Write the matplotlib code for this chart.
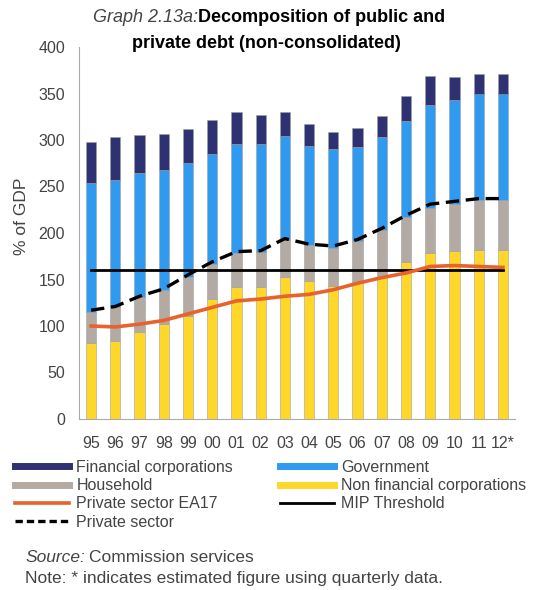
"""
Decomposition of public and private debt (non-consolidated), % of GDP.
"""
import matplotlib
matplotlib.use("Agg")
import matplotlib.pyplot as plt
from matplotlib.lines import Line2D
import numpy as np

plt.rcParams['font.family'] = ['Liberation Sans', 'DejaVu Sans']

years = ['95', '96', '97', '98', '99', '00', '01', '02', '03', '04', '05',
         '06', '07', '08', '09', '10', '11', '12*']

# stacked bar components
nfc = [82, 84, 94, 102, 111, 129, 142, 142, 153, 148, 143, 147, 153, 169, 178, 181, 182, 182]
household = [33, 36, 37, 37, 42, 38, 36, 38, 39, 39, 41, 44, 50, 48, 49, 50, 53, 54]
government = [139, 137, 133, 129, 122, 118, 118, 116, 112, 107, 106, 102, 100, 103, 111, 112, 115, 114]
financial = [44, 46, 41, 38, 37, 37, 34, 31, 26, 23, 19, 20, 23, 27, 31, 25, 21, 21]

# lines
private_sector = [117, 121, 132, 140, 155, 169, 180, 181, 194, 188, 186, 193, 205, 219, 231, 234, 237, 237]
private_ea17 = [100, 99, 102, 106, 113, 120, 127, 129, 132, 134, 139, 146, 152, 157, 164, 165, 164, 163]
mip_threshold = [160] * len(years)

c_fin = '#2e3272'
c_gov = '#2f9af0'
c_hh = '#b3aba3'
c_nfc = '#ffd62a'
c_ea = '#e8622c'
c_txt = '#444444'

fig = plt.figure(figsize=(5.56, 5.90), dpi=100)
ax = fig.add_axes([79 / 556, 1 - 419 / 590, (515 - 79) / 556, (419 - 47) / 590])

x = np.arange(len(years))
w = 0.42
edge = dict(edgecolor='#a0a0a0', linewidth=0.4)
b1 = np.array(nfc)
b2 = b1 + np.array(household)
b3 = b2 + np.array(government)
ax.bar(x, nfc, w, color=c_nfc, **edge)
ax.bar(x, household, w, bottom=b1, color=c_hh, **edge)
ax.bar(x, government, w, bottom=b2, color=c_gov, **edge)
ax.bar(x, financial, w, bottom=b3, color=c_fin, **edge)

ax.plot(x, mip_threshold, color='black', lw=2)
ax.plot(x, private_ea17, color=c_ea, lw=2.6)
ax.plot(x, private_sector, color='black', lw=2.4, ls=(0, (4, 2)))

ax.set_xlim(-0.5, len(years) - 0.5)
ax.set_ylim(0, 400)
ax.set_yticks(range(0, 401, 50))
ax.set_xticks(x)
ax.set_xticklabels(years)
ax.tick_params(length=0, labelsize=11.5, colors=c_txt)
ax.tick_params(axis='y', pad=10)
ax.tick_params(axis='x', pad=12)
for s in ['top', 'right']:
    ax.spines[s].set_visible(False)
for s in ['left', 'bottom']:
    ax.spines[s].set_color('#aaaaaa')
    ax.spines[s].set_linewidth(0.8)
ax.set_ylabel('% of GDP', fontsize=12.5, color=c_txt)
ax.yaxis.set_label_coords(-0.115, 0.545)

# title
fig.text(198 / 556, 1 - 17 / 590, 'Graph 2.13a:', fontsize=13, style='italic',
         ha='right', va='center', color=c_txt)
fig.text(198 / 556, 1 - 17 / 590, 'Decomposition of public and', fontsize=13,
         weight='bold', ha='left', va='center')
fig.text(266 / 556, 1 - 43 / 590, 'private debt (non-consolidated)', fontsize=13,
         weight='bold', ha='center', va='center')

# legend
handles = [
    Line2D([], [], color=c_fin, lw=5),
    Line2D([], [], color=c_hh, lw=5),
    Line2D([], [], color=c_ea, lw=2.6),
    Line2D([], [], color='black', lw=2.4, ls=(0, (2.2, 1.2))),
    Line2D([], [], color=c_gov, lw=5),
    Line2D([], [], color=c_nfc, lw=5),
    Line2D([], [], color='black', lw=2),
]
labels = ['Financial corporations', 'Household', 'Private sector EA17', 'Private sector',
          'Government', 'Non financial corporations', 'MIP Threshold']
fig.legend(handles, labels, ncol=2, loc='upper left', bbox_to_anchor=(15 / 556, 1 - 460 / 590),
           frameon=False, fontsize=11.5, handlelength=3.4, handletextpad=0.45,
           columnspacing=2.9, labelspacing=0.2, borderaxespad=0, borderpad=0,
           labelcolor=c_txt)

fig.text(25 / 556, 1 - 558 / 590, 'Source:', fontsize=12.5, style='italic', va='center', color=c_txt)
fig.text(89 / 556, 1 - 558 / 590, 'Commission services', fontsize=12.5, va='center', color=c_txt)
fig.text(25 / 556, 1 - 578 / 590, 'Note: * indicates estimated figure using quarterly data.',
         fontsize=12.5, va='center', color=c_txt)

fig.savefig('out.png', dpi=100)
